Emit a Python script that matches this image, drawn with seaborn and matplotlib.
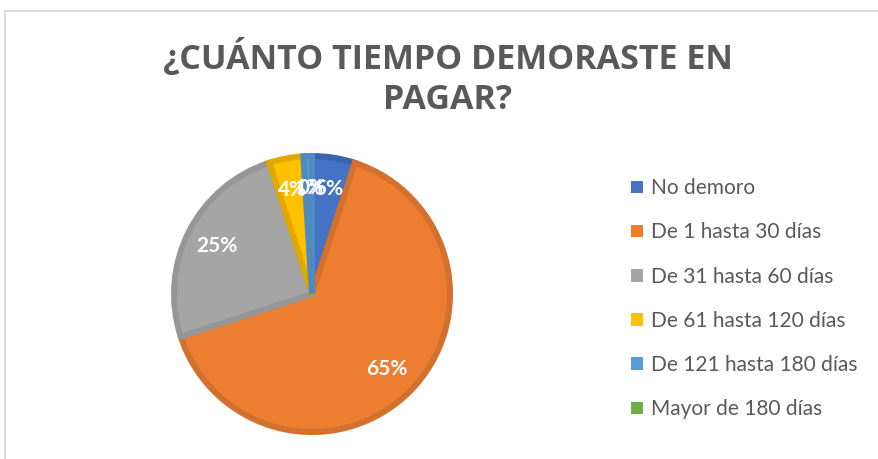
import matplotlib
matplotlib.use("Agg")
import matplotlib.pyplot as plt
from matplotlib.patches import Patch, Rectangle
import seaborn as sns

# datos de la encuesta
categorias = ["No demoro", "De 1 hasta 30 días", "De 31 hasta 60 días",
              "De 61 hasta 120 días", "De 121 hasta 180 días", "Mayor de 180 días"]
porcentajes = [5, 65, 25, 4, 1, 0]
explotar = [0, 0.045, 0, 0, 0, 0]

colores = ["#4472C4", "#ED7D31", "#A5A5A5", "#FFC000", "#5B9BD5", "#70AD47"]
bordes = ["#3A64AE", "#D2702D", "#969696", "#E0A800", "#4F8AC0", "#5F933C"]

sns.set_theme(style="white")
plt.rcParams['font.family'] = ['Lato', 'DejaVu Sans']

W, H = 879, 459
fig = plt.figure(figsize=(W / 100, H / 100), dpi=100)
ax = fig.add_axes([0, 0, 1, 1])

wedges, textos, autotextos = ax.pie(
    porcentajes,
    explode=explotar,
    colors=sns.color_palette(colores),
    startangle=90,
    counterclock=False,
    center=(312, H - 294),
    radius=138,
    autopct=lambda p: f"{p:.0f}%",
    pctdistance=0.77,
    frame=True,
    wedgeprops=dict(linewidth=4.3, joinstyle="miter"),
    textprops=dict(color="white", fontsize=15, fontweight="bold"),
)
for w, c, v in zip(wedges, bordes, porcentajes):
    w.set_edgecolor(c)
    if v == 0:
        w.set_linewidth(0)

ax.set_xlim(0, W)
ax.set_ylim(0, H)
ax.set_aspect("equal")
ax.axis("off")

# marco del grafico
fig.patches.append(Rectangle((5 / W, -0.1), 1.2, (H - 11) / H + 0.1,
                             transform=fig.transFigure, fill=False,
                             edgecolor="#D9D9D9", linewidth=1.5))

titulo = ["¿CUÁNTO TIEMPO DEMORASTE EN", "PAGAR?"]
for linea, y in zip(titulo, [58, 100]):
    fig.text(448 / W, 1 - y / H, linea, ha="center", va="center",
             fontsize=24.5, fontweight="bold", color="#595959",
             family=["Open Sans", "DejaVu Sans"])

handles = [Patch(facecolor=c, edgecolor="none") for c in colores]
leg = ax.legend(handles, categorias, loc="upper left",
                bbox_to_anchor=(623 / W, 1 - 170 / H), bbox_transform=fig.transFigure,
                frameon=False, fontsize=15, handlelength=0.55, handleheight=0.55,
                handletextpad=0.4, labelspacing=1.16, borderaxespad=0)
for t in leg.get_texts():
    t.set_color("#595959")

fig.savefig("out.png", dpi=100)
